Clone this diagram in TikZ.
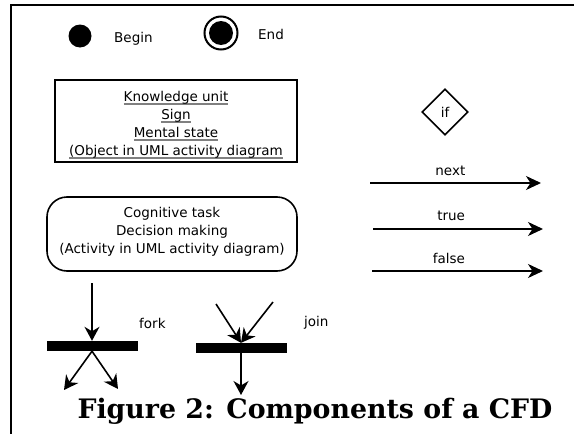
\documentclass[tikz,border=0pt]{standalone}
\usepackage{fontspec}
\setmainfont{DejaVu Sans}
\newfontfamily\capfont{DejaVu Serif}
\usetikzlibrary{arrows.meta,shapes.geometric}
\newlength\gulw
\newcommand\gul[1]{\settowidth\gulw{#1}\rlap{\textcolor{gray}{\rule[-3.2pt]{\gulw}{1.8pt}}}#1}
\tikzset{
  txt/.style={font=\fontsize{13.5}{18}\selectfont, inner sep=0pt, align=center},
  bigarrow/.style={line width=1.8pt, -{Stealth[length=15pt,width=14pt,inset=4.5pt]}},
  flowarrow/.style={line width=1.6pt, -{Stealth[length=14pt,width=15pt,inset=4.5pt]}},
  bar/.style={rectangle, fill=black, inner sep=0pt, minimum height=10pt},
}
\begin{document}
\begin{tikzpicture}[x=1pt,y=-1pt]
\useasboundingbox (0,0) rectangle (574,434);
% frame lines
\coordinate (fa) at (11,434);
\coordinate (fb) at (11,5);
\coordinate (fc) at (574,5);
\draw[line width=1.5pt] (fa) -- (fb) -- (fc);
% begin / end
\node[circle, fill=black, minimum size=23pt, inner sep=0pt] (begin) at (80,36) {};
\node[txt, anchor=west] (begintxt) at (114,39) {Begin};
\node[circle, draw, line width=2pt, minimum size=33pt, inner sep=0pt] (endo) at (221,33) {};
\node[circle, fill=black, minimum size=24pt, inner sep=0pt] (endi) at (221,33) {};
\node[txt, anchor=west] (endtxt) at (258,34) {End};
% object box
\node[draw, line width=2pt, minimum width=242pt, minimum height=82pt, inner sep=0pt] (obj) at (176,121) {};
\node[txt] (objtxt) at (176,125) {\gul{Knowledge unit}\\ \gul{Sign}\\ \gul{Mental state}\\ \gul{(Object in UML activity diagram}};
% activity box
\node[draw, line width=1.6pt, rounded corners=20pt, minimum width=250pt, minimum height=74pt, inner sep=0pt] (act) at (172,234) {};
\node[txt] (acttxt) at (172,232) {Cognitive task\\ Decision making\\ (Activity in UML activity diagram)};
% decision
\node[diamond, draw, line width=1.6pt, minimum width=46pt, minimum height=46pt, inner sep=0pt, font=\fontsize{13.5}{16}\selectfont] (if) at (445,112) {if};
% arrows
\coordinate (n1) at (370,183); \coordinate (n2) at (541,183);
\coordinate (t1) at (373,229); \coordinate (t2) at (543,229);
\coordinate (f1) at (372,271); \coordinate (f2) at (543,271);
\draw[bigarrow] (n1) -- node[txt, pos=0.47, above=6pt] {next} (n2);
\draw[bigarrow] (t1) -- node[txt, pos=0.46, above=7pt] {true} (t2);
\draw[bigarrow] (f1) -- node[txt, pos=0.45, above=6pt] {false} (f2);
% fork
\node[bar, minimum width=91pt] (forkbar) at (92,346) {};
\coordinate (fin) at (92,283);
\coordinate (fl) at (64,390);
\coordinate (fr) at (118,389);
\draw[flowarrow] (fin) -- (forkbar.north);
\draw[flowarrow] (forkbar.south) -- (fl);
\draw[flowarrow] (forkbar.south) -- (fr);
\node[txt, anchor=west] (forktxt) at (139,323) {fork};
% join
\node[bar, minimum width=91pt] (joinbar) at (241,348) {};
\coordinate (ja) at (216,304);
\coordinate (jb) at (273,302);
\coordinate (jout) at (241,395);
\draw[flowarrow] (ja) -- (joinbar.north);
\draw[flowarrow] (jb) -- (joinbar.north);
\draw[flowarrow] (joinbar.south) -- (jout);
\node[txt, anchor=west] (jointxt) at (304,323) {join};
% caption
\node[font=\capfont\bfseries\fontsize{26.8}{30}\selectfont, inner sep=0pt] (cap) at (315,411) {Figure 2: Components of a CFD};
\end{tikzpicture}
\end{document}
